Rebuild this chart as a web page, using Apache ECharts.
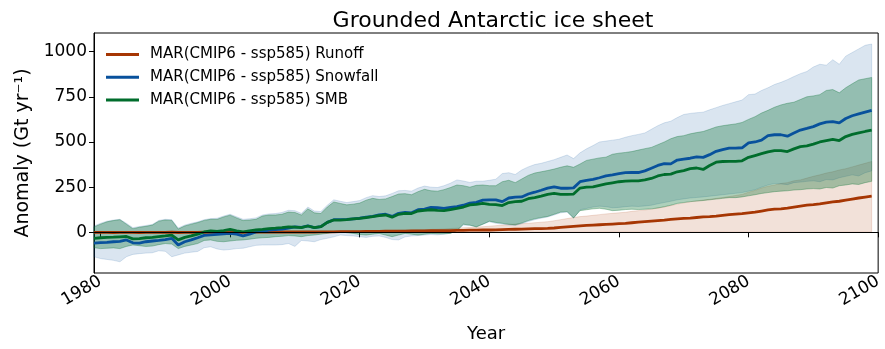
<!DOCTYPE html>
<html>
<head>
<meta charset="utf-8">
<title>Grounded Antarctic ice sheet</title>
<script src="https://cdn.jsdelivr.net/npm/echarts@6/dist/echarts.min.js"></script>
<style>
  html, body { margin: 0; padding: 0; background: #fff; }
  #chart { width: 885px; height: 349px; }
</style>
</head>
<body>
<div id="chart"></div>
<script>
// Yearly anomalies (Gt/yr), 1979 .. 2099, MAR forced by CMIP6 ssp585.
const FIRST_YEAR = 1979;

// Runoff: ensemble mean, lower and upper envelope
const runoffMean = [
  0,
  0, 0, -1, 0, 0, 0, -1, 0, 0, 0,
  0, 1, -1, 0, 0, 0, 1, 0, 1, 0,
  0, 1, 0, 1, 1, 1, 1, 1, 2, 2,
  2, 2, 3, 2, 3, 3, 3, 4, 4, 4,
  4, 5, 5, 5, 6, 6, 7, 7, 8, 8,
  8, 9, 9, 10, 10, 11, 11, 12, 12, 13,
  13, 14, 15, 16, 17, 18, 19, 20, 21, 22,
  24, 27, 30, 33, 36, 38, 40, 42, 44, 46,
  48, 50, 53, 56, 59, 62, 65, 68, 72, 75,
  77, 79, 82, 85, 87, 90, 94, 98, 101, 104,
  108, 112, 118, 124, 128, 130, 134, 140, 145, 150,
  153, 157, 163, 168, 172, 178, 184, 190, 195, 200
];
const runoffLow = [
  -4,
  -5, -4, -5, -4, -4, -5, -5, -4, -4, -4,
  -4, -3, -5, -4, -4, -4, -3, -4, -3, -4,
  -4, -3, -4, -3, -3, -3, -3, -3, -2, -2,
  -2, -2, -1, -2, -1, -1, -1, 0, 0, 0,
  0, 0, 0, 0, 0, 0, 0, 0, 0, 0,
  0, 0, 0, 0, 0, 0, 0, 1, 1, 1,
  1, 1, 1, 1, 1, 1, 1, 1, 1, 1,
  1, 1, 1, 1, 1, 1, 1, 2, 2, 2,
  2, 2, 2, 2, 2, 2, 2, 2, 2, 2,
  2, 2, 2, 2, 2, 2, 2, 3, 3, 3,
  3, 3, 3, 3, 3, 3, 3, 3, 3, 3,
  3, 3, 3, 3, 3, 3, 3, 3, 3, 3
];
const runoffHigh = [
  4,
  5, 4, 3, 4, 5, 4, 3, 4, 4, 5,
  4, 5, 3, 4, 4, 5, 5, 4, 5, 4,
  4, 5, 4, 5, 5, 5, 5, 5, 6, 6,
  6, 6, 7, 6, 7, 7, 7, 8, 8, 8,
  8, 9, 9, 9, 10, 10, 11, 12, 13, 14,
  15, 16, 17, 19, 21, 23, 25, 27, 29, 31,
  34, 37, 40, 43, 46, 48, 50, 53, 56, 59,
  64, 70, 76, 82, 87, 90, 94, 98, 102, 105,
  108, 111, 116, 120, 124, 128, 134, 140, 148, 156,
  163, 169, 174, 179, 183, 188, 193, 198, 204, 210,
  222, 232, 245, 255, 262, 270, 275, 285, 290, 300,
  310, 318, 328, 335, 345, 352, 362, 372, 382, 392
];

// Snowfall: ensemble mean, lower and upper envelope
const snowfallMean = [
  -60,
  -57, -55, -52, -50, -42, -58, -60, -52, -48, -45,
  -40, -33, -70, -52, -42, -30, -17, -14, -11, -8,
  -5, -10, -20, -10, 2, 6, 12, 15, 18, 24,
  30, 27, 36, 26, 32, 55, 70, 70, 72, 75,
  78, 84, 88, 96, 100, 88, 105, 110, 108, 125,
  128, 138, 136, 133, 138, 142, 150, 162, 166, 178,
  180, 180, 170, 190, 195, 196, 212, 222, 233, 245,
  252, 244, 244, 246, 280, 287, 293, 302, 312, 318,
  325, 330, 332, 331, 340, 355, 370, 380, 379, 400,
  405, 410, 418, 415, 430, 448, 458, 466, 466, 468,
  495, 500, 510, 535, 540, 540, 532, 550, 566, 575,
  585, 600, 610, 613, 606, 630, 645, 655, 665, 675
];
const snowfallLow = [
  -135,
  -145, -150, -155, -163, -135, -122, -118, -115, -113, -102,
  -105, -135, -125, -115, -110, -106, -85, -80, -92, -98,
  -95, -90, -88, -80, -72, -70, -70, -70, -68, -62,
  -78, -45, -48, -52, -40, -33, -25, -15, -18, -20,
  -24, -28, -22, -20, -28, -40, -42, -25, -20, -18,
  -15, -12, -14, -10, -5, 10, 40, 38, 32, 45,
  58, 50, 46, 40, 38, 48, 60, 70, 78, 85,
  96, 108, 112, 78, 125, 132, 140, 145, 142, 136,
  138, 142, 145, 143, 146, 150, 158, 165, 172, 180,
  185, 190, 193, 196, 200, 204, 208, 212, 216, 220,
  228, 236, 250, 262, 270, 268, 264, 275, 278, 282,
  285, 280, 292, 290, 302, 310, 318, 312, 330, 340
];
const snowfallHigh = [
  35,
  50, 62, 68, 72, 50, 26, 32, 38, 44, 66,
  72, 70, 24, 40, 50, 58, 70, 76, 78, 90,
  100, 86, 72, 75, 80, 96, 102, 104, 110, 122,
  120, 105, 140, 118, 115, 150, 180, 172, 165, 170,
  176, 192, 203, 198, 202, 215, 230, 232, 228, 245,
  256, 250, 248, 258, 272, 290, 284, 276, 283, 283,
  288, 294, 325, 330, 320, 345, 362, 375, 382, 392,
  402, 415, 428, 408, 440, 462, 480, 500, 505, 510,
  515, 526, 535, 542, 550, 570, 590, 606, 615, 635,
  652, 658, 662, 665, 678, 690, 702, 712, 722, 732,
  762, 765, 785, 800, 818, 830, 845, 862, 878, 890,
  915, 930, 925, 955, 930, 975, 995, 1015, 1035, 1042
];

// Surface mass balance: ensemble mean, lower and upper envelope
const smbMean = [
  -33,
  -30, -28, -27, -25, -23, -36, -35, -30, -28, -24,
  -20, -15, -42, -28, -20, -10, 2, 8, 5, 10,
  16, 8, 2, 8, 13, 16, 21, 23, 26, 30,
  29, 26, 35, 26, 31, 55, 68, 68, 70, 74,
  77, 82, 87, 93, 96, 84, 100, 105, 104, 118,
  122, 125, 122, 120, 126, 132, 140, 152, 155, 160,
  155, 153, 148, 165, 170, 172, 186, 192, 200, 210,
  215, 210, 210, 212, 245, 250, 252, 260, 268, 274,
  280, 283, 285, 285, 290, 298, 312, 320, 322, 335,
  342, 352, 356, 348, 370, 388, 392, 393, 393, 396,
  415, 425, 435, 445, 452, 452, 447, 462, 474, 478,
  488, 500, 507, 514, 508, 530, 542, 550, 558, 565
];
const smbLow = [
  -85,
  -90, -88, -86, -90, -78, -70, -74, -78, -76, -68,
  -62, -65, -90, -78, -70, -62, -45, -42, -50, -52,
  -48, -44, -42, -38, -33, -30, -28, -24, -22, -18,
  -20, -24, -18, -15, -10, -6, 0, 4, -2, -6,
  -12, -15, -10, -6, -15, -24, -15, -6, -10, -15,
  -10, -6, -8, -8, -6, 10, 45, 40, 30, 45,
  62, 55, 50, 45, 42, 52, 65, 75, 82, 88,
  100, 112, 115, 80, 120, 125, 130, 133, 128, 120,
  122, 126, 128, 126, 128, 130, 135, 142, 150, 160,
  165, 170, 173, 176, 180, 184, 188, 192, 192, 196,
  202, 208, 215, 220, 225, 228, 230, 234, 236, 240,
  242, 240, 248, 245, 258, 262, 268, 265, 275, 282
];
const smbHigh = [
  30,
  45, 58, 65, 70, 45, 20, 28, 33, 40, 62,
  68, 66, 18, 35, 45, 54, 66, 72, 72, 85,
  95, 80, 65, 68, 72, 90, 96, 96, 100, 112,
  110, 96, 130, 108, 104, 140, 168, 160, 152, 156,
  162, 178, 188, 182, 185, 198, 212, 214, 208, 225,
  238, 230, 228, 236, 248, 262, 258, 250, 260, 262,
  258, 258, 280, 288, 275, 295, 315, 328, 335, 342,
  350, 360, 368, 360, 378, 398, 405, 412, 416, 432,
  438, 442, 447, 455, 463, 470, 485, 500, 518, 530,
  535, 545, 552, 558, 570, 583, 590, 595, 600, 608,
  625, 640, 660, 675, 692, 705, 714, 720, 735, 750,
  755, 762, 785, 790, 772, 800, 822, 843, 850, 857
];

// Axis ticks
const xTickYears = [1980, 2000, 2020, 2040, 2060, 2080, 2100];
const yTickValues = [0, 250, 500, 750, 1000];

const seriesNames = {
  runoff: 'MAR(CMIP6 - ssp585) Runoff',
  snowfall: 'MAR(CMIP6 - ssp585) Snowfall',
  smb: 'MAR(CMIP6 - ssp585) SMB'
};

const years = runoffMean.map((_, i) => FIRST_YEAR + i);
const toPairs = vals => vals.map((v, i) => [years[i], v]);

const FONT = 'DejaVu Sans';
const COLORS = { runoff: '#a63603', snowfall: '#08519c', smb: '#006d2c' };

function rgba(hex, a) {
  const n = parseInt(hex.slice(1), 16);
  return 'rgba(' + (n >> 16) + ',' + ((n >> 8) & 255) + ',' + (n & 255) + ',' + a + ')';
}

// Envelope between lower and upper bounds: one filled polygon whose
// vertices are projected through the grid's axes.
function envelope(key, lo, hi, alpha) {
  const fill = rgba(COLORS[key], alpha);
  const rows = years.map((y, i) => [y, lo[i], hi[i]]);
  return {
    type: 'custom', name: key + '-envelope', silent: true, z: 1,
    data: rows,
    encode: { x: 0, y: [1, 2] },
    renderItem: function (params, api) {
      if (params.dataIndex !== 0) return null;
      const upper = rows.map(r => api.coord([r[0], r[2]]));
      const lower = rows.map(r => api.coord([r[0], r[1]])).reverse();
      return {
        type: 'polygon',
        shape: { points: upper.concat(lower) },
        style: { fill: fill, stroke: fill, lineWidth: 1 }
      };
    }
  };
}

function meanLine(key, vals) {
  return {
    type: 'line', name: seriesNames[key], data: toPairs(vals),
    symbol: 'none', z: 3,
    lineStyle: { width: 2.8, color: COLORS[key] },
    itemStyle: { color: COLORS[key] }
  };
}

const tickLabel = { color: '#000', fontSize: 17, fontFamily: FONT };

const chart = echarts.init(document.getElementById('chart'), null, { renderer: 'canvas' });
chart.setOption({
  animation: false,
  backgroundColor: '#fff',
  title: {
    text: 'Grounded Antarctic ice sheet',
    left: 488, top: 5, textAlign: 'center',
    textStyle: { color: '#000', fontSize: 22, fontWeight: 'normal', fontFamily: FONT }
  },
  legend: {
    data: [seriesNames.runoff, seriesNames.snowfall, seriesNames.smb],
    orient: 'vertical', left: 106, top: 46.5, padding: 0,
    icon: 'rect', itemWidth: 33, itemHeight: 3, itemGap: 6.8,
    textStyle: { color: '#000', fontSize: 15, fontFamily: FONT, lineHeight: 16, padding: [0, 0, 0, 6] }
  },
  grid: {
    left: 94, right: 1.7, top: 33, bottom: 76,
    show: true, borderColor: '#000', borderWidth: 1, backgroundColor: 'transparent'
  },
  xAxis: {
    type: 'value', min: 1979, max: 2100,
    name: 'Year', nameLocation: 'middle', nameGap: 52,
    nameTextStyle: { color: '#000', fontSize: 18, fontFamily: FONT },
    axisLine: { show: true, lineStyle: { color: '#000', width: 1 } },
    axisTick: { show: true, length: 5, lineStyle: { color: '#000', width: 1 }, customValues: xTickYears },
    axisLabel: Object.assign({ rotate: 30, margin: 7, customValues: xTickYears, formatter: v => String(v) }, tickLabel),
    splitLine: { show: false }
  },
  yAxis: {
    type: 'value', min: -225, max: 1103,
    name: 'Anomaly (Gt yr\u207B\u00B9)', nameLocation: 'middle', nameRotate: 90, nameGap: 51,
    nameTextStyle: { color: '#000', fontSize: 19, fontFamily: FONT },
    axisLine: { show: true, lineStyle: { color: '#000', width: 1 } },
    axisTick: { show: true, length: 5, lineStyle: { color: '#000', width: 1 }, customValues: yTickValues },
    axisLabel: Object.assign({ margin: 7, customValues: yTickValues, formatter: v => String(v) }, tickLabel),
    splitLine: { show: false }
  },
  series: [
    envelope('runoff', runoffLow, runoffHigh, 0.15),
    envelope('snowfall', snowfallLow, snowfallHigh, 0.15),
    envelope('smb', smbLow, smbHigh, 0.32),
    meanLine('runoff', runoffMean),
    meanLine('snowfall', snowfallMean),
    Object.assign(meanLine('smb', smbMean), {
      markLine: {
        silent: true, symbol: ['none', 'none'], label: { show: false },
        lineStyle: { color: '#000', width: 1.2, type: 'solid' },
        data: [{ yAxis: 0 }]
      }
    })
  ]
});
</script>
</body>
</html>
